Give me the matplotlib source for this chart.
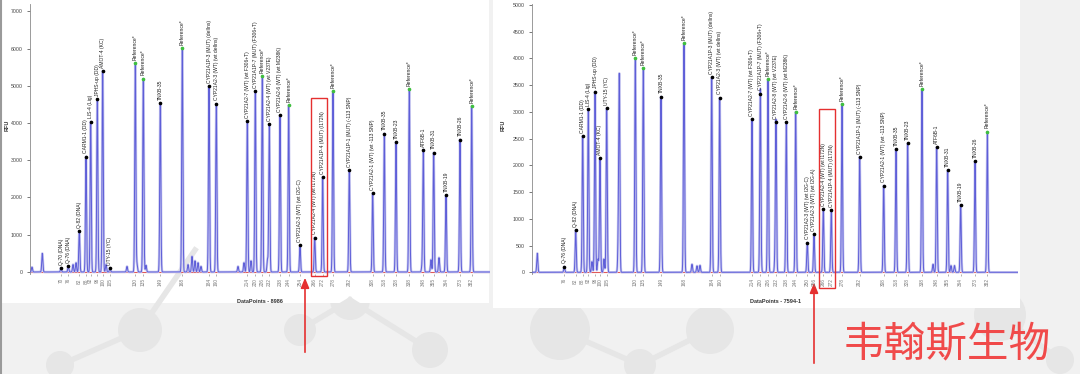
import numpy as np
import matplotlib.pyplot as plt
from matplotlib.patches import Rectangle, Circle

plt.rcParams['font.family'] = ['Liberation Sans', 'Noto Sans CJK SC', 'DejaVu Sans']

# Panel A (DataPoints - 8986): peak position, height (RFU), name, size (bp)
a_pos = [31, 38.3, 49.3, 56, 60.7, 67.3, 72.7, 80, 105.3, 113.3, 130.3, 152.3,
         179, 186.3, 217.3, 225.3, 232.3, 239.3, 250, 258.7, 270, 284.7, 292.7,
         303, 319.3, 342.7, 354.3, 366, 379.3, 393.3, 403.7, 416, 430, 441.7]
a_rfu = [110, 160, 1090, 3100, 4040, 4640, 5400, 110, 5610, 5190, 4540, 6015,
         4985, 4520, 4045, 4850, 5250, 3965, 4210, 4475, 717, 925, 2550,
         4860, 2730, 2120, 3715, 3490, 4900, 3275, 3205, 2060, 3555, 4450]
a_names = ['Q-70 (DNA)', 'Q-76 (DNA)', 'Q-82 (DNA)', 'CARM1-1 (DD)', 'LIS-4 (Lig)',
           'JPHS-up (DD)', 'AMOT-4 (KC)', 'UTY-15 (YC)', 'Reference*', 'Reference*',
           'TNXB-35', 'Reference*', 'CYP21A1P-3 (MUT) (delIns)', 'CYP21A2-3 (WT) (wt delIns)',
           'CYP21A2-7 (WT) (wt F306+T)', 'CYP21A1P-7 (MUT) (F306+T)', 'Reference*',
           'CYP21A2-4 (WT) (wt V237E)', 'CYP21A2-6 (WT) (wt M238K)', 'Reference*',
           'CYP21A2-3 (WT) (wt I2G-C)', 'CYP21A2-4 (WT) (wt I172N)', 'CYP21A1P-4 (MUT) (I172N)',
           'Reference*', 'CYP21A1P-1 (MUT) (-113 SNP)', 'CYP21A2-1 (WT) (wt -113 SNP)',
           'TNXB-35', 'TNXB-23', 'Reference*', 'ATF6B-1', 'TNXB-31', 'TNXB-19',
           'TNXB-26', 'Reference*']
a_sizes = ['70', '76', '82', '88', '92', '96', '100', '105', '130', '135', '149', '168',
           '184', '190', '214', '220', '226', '232', '238', '244', '254', '266', '272',
           '278', '292', '308', '318', '328', '338', '348', '355', '364', '373', '382']
# unlabeled small peaks
a_noise_pos = [2, 12.3, 43, 46, 76, 97, 107, 116, 158, 162, 165, 168, 171,
               208, 214, 221, 237.5, 392, 401, 409]
a_noise_rfu = [130, 500, 200, 250, 200, 150, 200, 180, 200, 420, 300, 250, 150,
               150, 250, 300, 330, 150, 330, 385]

# Panel B (DataPoints - 7594-1)
b_pos = [32.3, 43.7, 50.7, 56.3, 63, 68, 74.7, 103.3, 111.3, 129, 152,
         179.7, 187.7, 220, 228.3, 236, 244, 254.3, 263.7, 275.3, 282, 291.3,
         299.3, 310, 327.7, 351.7, 364, 375.7, 390, 404.7, 415.7, 428.7, 443, 455.3]
b_rfu = [105, 790, 2550, 3050, 3380, 2130, 3065, 4000, 3815, 3285, 4280,
         3645, 3265, 2870, 3340, 3615, 2810, 2810, 3000, 555, 710, 1185,
         1165, 3150, 2160, 1620, 2305, 2410, 3420, 2340, 1910, 1260, 2075, 2630]
b_names = ['Q-76 (DNA)', 'Q-82 (DNA)', 'CARM1-1 (DD)', 'LIS-4 (Lig)', 'JPHS-up (DD)',
           'AMOT-4 (KC)', 'UTY-15 (YC)', 'Reference*', 'Reference*', 'TNXB-35', 'Reference*',
           'CYP21A1P-3 (MUT) (delIns)', 'CYP21A2-3 (WT) (wt delIns)',
           'CYP21A2-7 (WT) (wt F306+T)', 'CYP21A1P-7 (MUT) (F306+T)', 'Reference*',
           'CYP21A2-8 (WT) (wt V237E)', 'CYP21A2-6 (WT) (wt M238K)', 'Reference*',
           'CYP21A2-3 (WT) (wt I2G-C)', 'CYP21A2-3 (WT) (wt I2G-A)',
           'CYP21A2-4 (WT) (wt I172N)', 'CYP21A1P-4 (MUT) (I172N)', 'Reference*',
           'CYP21A1P-1 (MUT) (-113 SNP)', 'CYP21A2-1 (WT) (wt -113 SNP)',
           'TNXB-35', 'TNXB-23', 'Reference*', 'ATF6B-1', 'TNXB-31', 'TNXB-19',
           'TNXB-26', 'Reference*']
b_sizes = ['76', '82', '88', '92', '96', '100', '105', '130', '135', '149', '168',
           '184', '190', '214', '220', '226', '232', '238', '244', '250', '256', '266',
           '272', '278', '292', '308', '318', '328', '338', '348', '355', '364', '373', '382']
b_noise_pos = [5.3, 60, 66, 72, 86.3, 87.3, 160, 165, 168, 229, 243, 401, 419, 422.5]
b_noise_rfu = [355, 200, 250, 250, 600, 3600, 150, 120, 130, 200, 260, 150, 125, 125]


def trace(x, pos, rfu, sigma=0.55):
    y = np.zeros_like(x)
    for p, h in zip(pos, rfu):
        y += h * np.exp(-0.5 * ((x - p) / sigma) ** 2)
    return y


W, H = 1080, 374
fig = plt.figure(figsize=(W / 100, H / 100), dpi=100)
fig.patch.set_facecolor('#f1f1f1')

# background layer in pixel coordinates
bg = fig.add_axes([0, 0, 1, 1], zorder=-1)
bg.set_xlim(0, W)
bg.set_ylim(H, 0)
bg.axis('off')
for cx, cy, r in [(195, 250, 38), (140, 330, 22), (60, 365, 14), (300, 330, 16),
                  (350, 300, 20), (430, 350, 18), (560, 330, 30), (640, 365, 16),
                  (710, 330, 24), (1000, 315, 26), (1060, 360, 14)]:
    bg.add_patch(Circle((cx, cy), r, color='#e6e6e6', lw=0))
for (x0, y0), (x1, y1) in [((140, 330), (195, 250)), ((60, 365), (140, 330)),
                           ((300, 330), (350, 300)), ((350, 300), (430, 350)),
                           ((560, 330), (640, 365)), ((640, 365), (710, 330)),
                           ((1000, 315), (1060, 360))]:
    bg.plot([x0, x1], [y0, y1], color='#e6e6e6', lw=4)
bg.add_patch(Rectangle((0, 0), 489, 303, color='white', lw=0))
bg.add_patch(Rectangle((493, 0), 527, 308, color='white', lw=0))
bg.plot([1, 1], [0, H], color='#9a9a9a', lw=1.5)

# red arrows and watermark
for ax_x, y_tail, y_head in [(305, 355, 275), (814, 366, 280)]:
    bg.annotate('', xy=(ax_x, y_head), xytext=(ax_x, y_tail),
                arrowprops=dict(arrowstyle='-|>,head_width=0.25,head_length=0.6',
                                color='#e53030', lw=1.2))
bg.text(947, 345, '韦翰斯生物', color='#f04a4a', fontsize=30, ha='center', va='center',
        family=['Noto Sans CJK SC'], fontweight='light')


def panel(rect, pos, rfu, names, sizes, npos, nrfu, xmax, ylim, ystep, xlabel, box, ylab_x):
    ax = fig.add_axes(rect)
    ax.patch.set_alpha(0)
    x = np.linspace(0, xmax, 9000)
    y = trace(x, list(pos) + list(npos), list(rfu) + list(nrfu))
    ax.plot(x, y, color='#c9c9f0', lw=1.8, zorder=2.5)
    ax.plot(x, y, color='#5e5ed8', lw=0.7, zorder=3)
    ax.axhline(0, color='#e05a5a', lw=0.8, zorder=2)
    ax.set_xlim(0, xmax)
    ax.set_ylim(*ylim)
    for p, h, n in zip(pos, rfu, names):
        c = '#3fbf3f' if n.startswith('Reference') else 'black'
        ax.plot(p, h, 'o', ms=1.6, color=c, zorder=4)
        ax.text(p, h + 0.012 * (ylim[1] - ylim[0]), n, rotation=90, ha='center',
                va='bottom', fontsize=3.6, color='#222222', zorder=5)
    ax.set_xticks(pos)
    ax.set_xticklabels(sizes, rotation=90, fontsize=3.4, color='#555555')
    ax.set_yticks(np.arange(0, ylim[1], ystep))
    ax.tick_params(axis='y', labelsize=3.8, length=2, width=0.5, colors='#444444')
    ax.tick_params(axis='x', length=1.5, width=0.4, pad=1.5, colors='#777777')
    for s in ['top', 'right', 'bottom']:
        ax.spines[s].set_visible(False)
    ax.spines['left'].set_color('#8a8a8a')
    ax.spines['left'].set_linewidth(0.6)
    ax.set_ylabel('RFU', fontsize=4, fontweight='bold', color='#333333')
    ax.yaxis.set_label_coords(ylab_x, 0.55)
    ax.set_xlabel(xlabel, fontsize=4, fontweight='bold', labelpad=9, color='#333333')
    bx0, bx1, by0, by1 = box
    ax.add_patch(Rectangle((bx0, by0), bx1 - bx0, by1 - by0, fill=False,
                           ec='#e53030', lw=1.0, clip_on=False, zorder=6))
    return ax


panel([30 / W, 1 - 274 / H, 460 / W, 270 / H], a_pos, a_rfu, a_names, a_sizes,
      a_noise_pos, a_noise_rfu, 460, (-54, 7195), 1000, 'DataPoints - 8986',
      (281, 297, -115, 4664), -0.045)
panel([532 / W, 1 - 274 / H, 486 / W, 270 / H], b_pos, b_rfu, b_names, b_sizes,
      b_noise_pos, b_noise_rfu, 486, (-32, 5017), 500, 'DataPoints - 7594-1',
      (287, 303, -294, 3054), -0.055)

fig.savefig('out.png', dpi=100, facecolor=fig.get_facecolor())
